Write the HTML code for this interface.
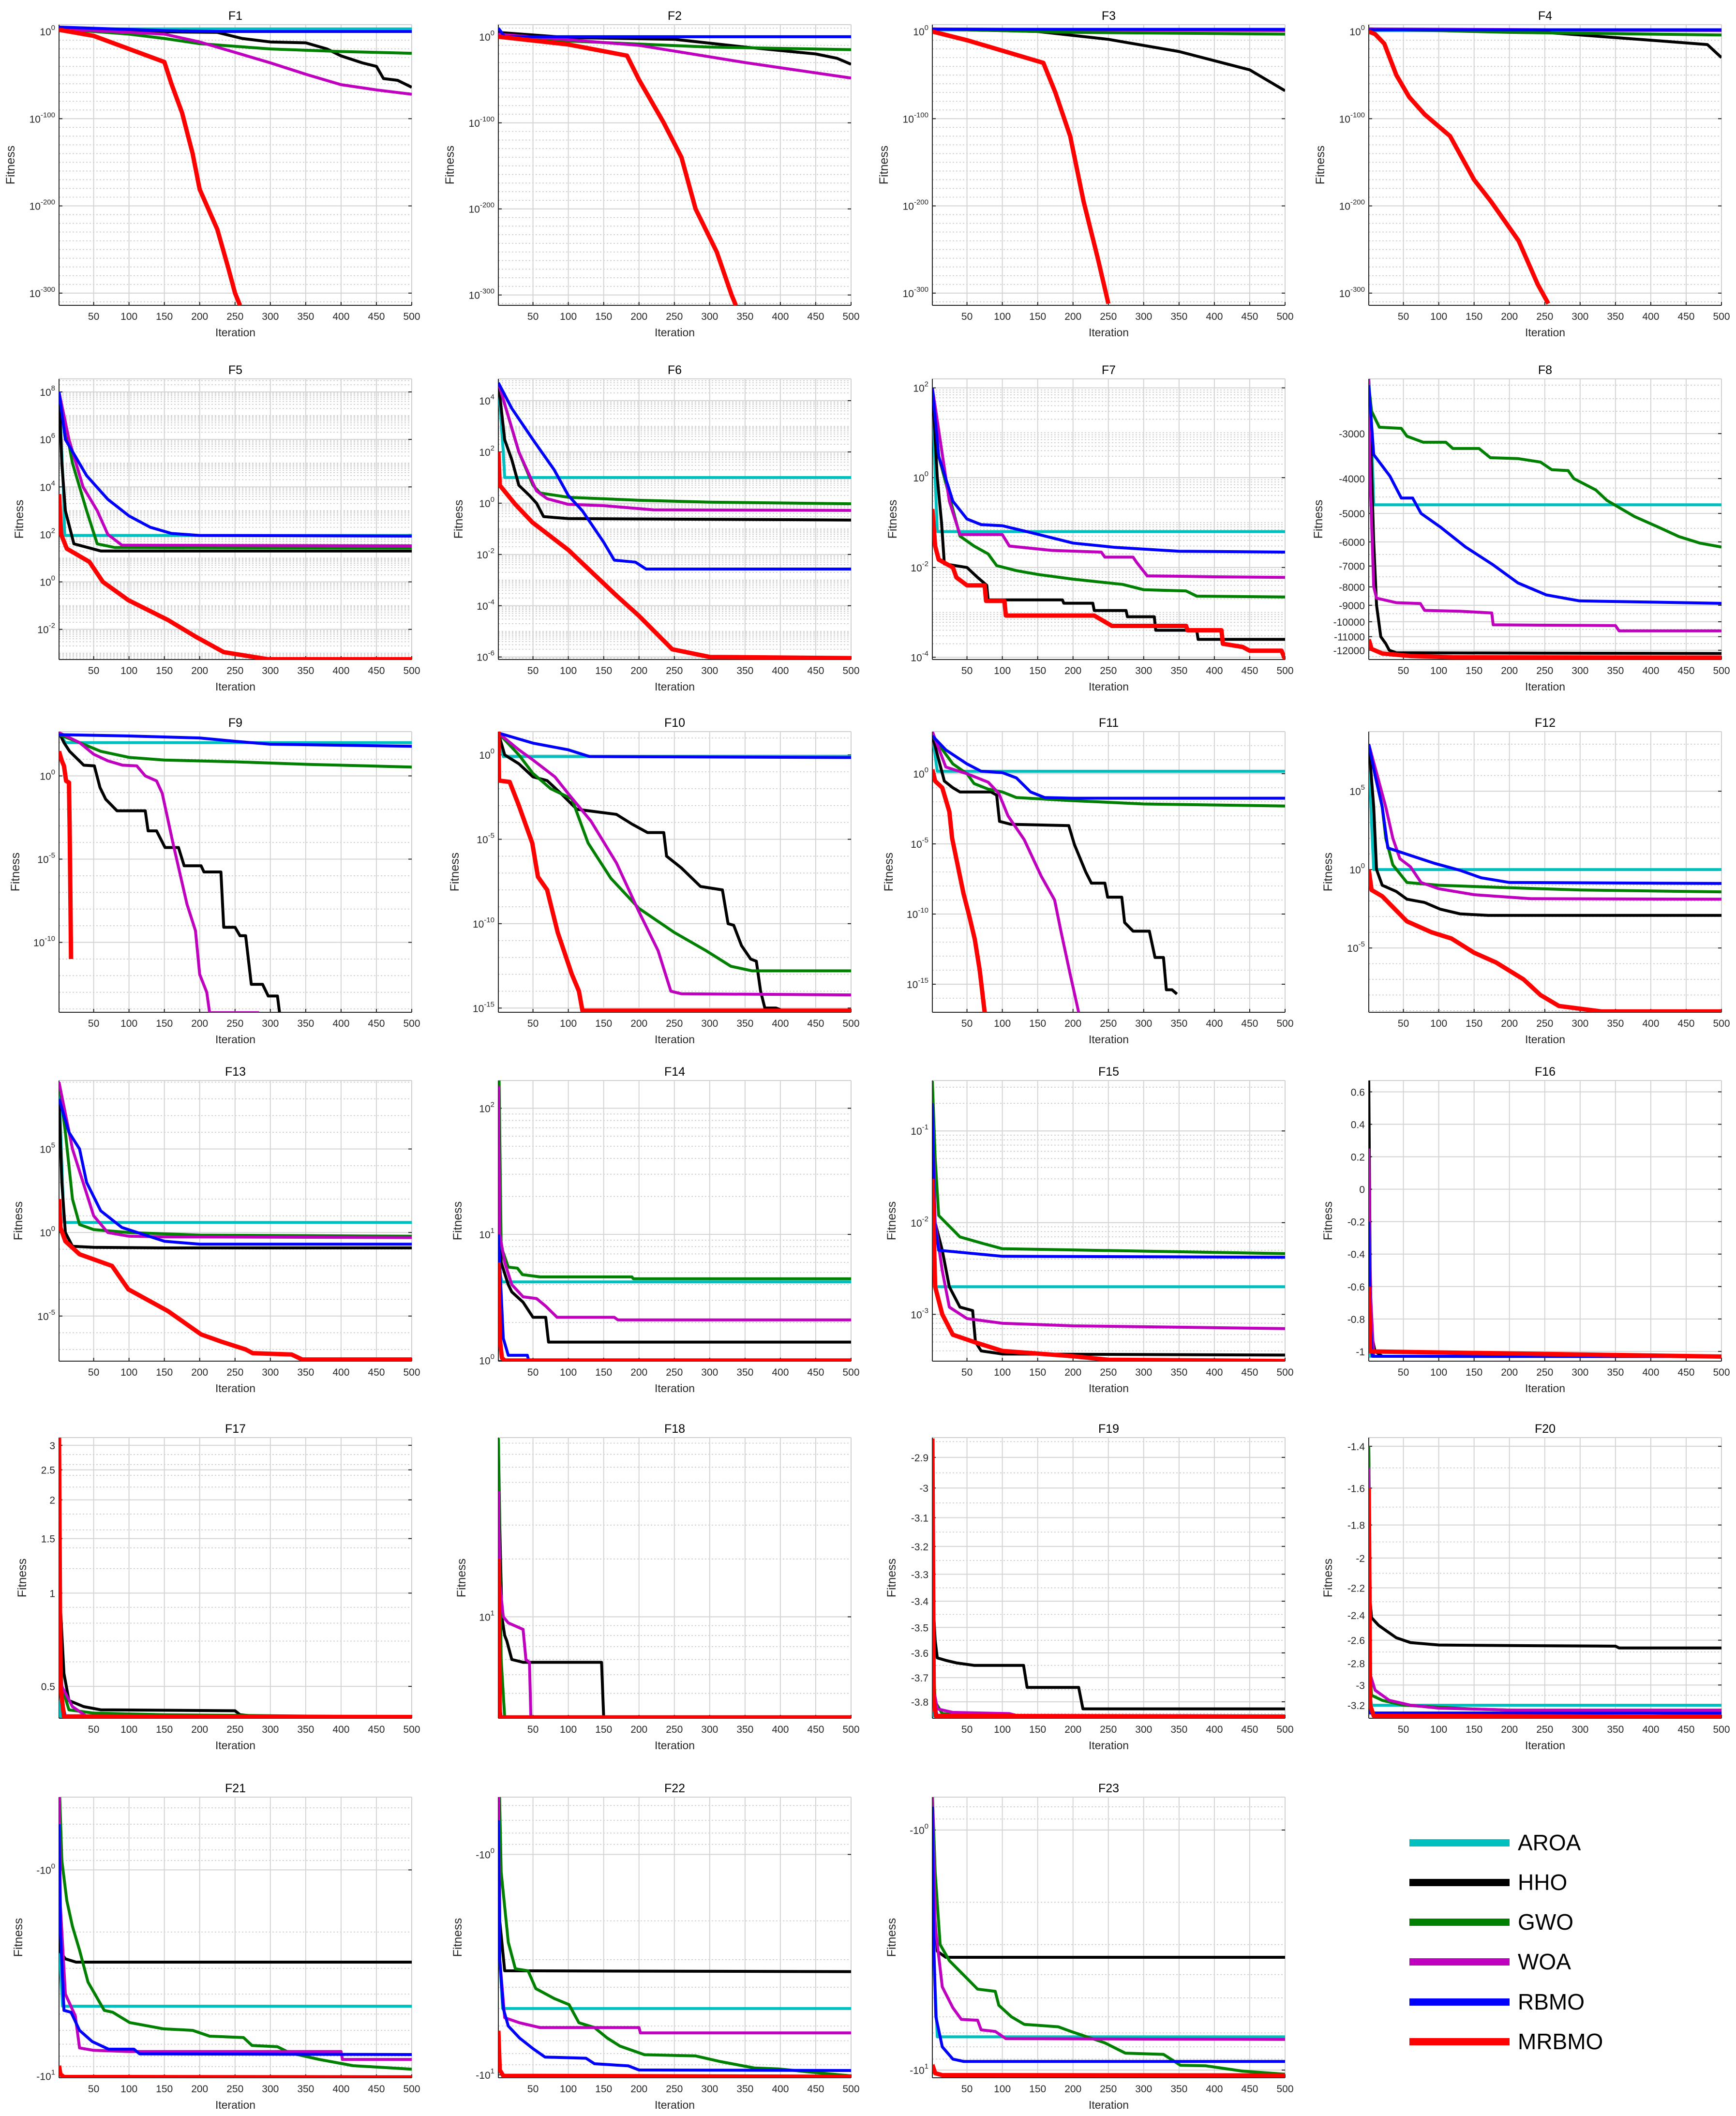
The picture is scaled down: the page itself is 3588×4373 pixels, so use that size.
<!DOCTYPE html>
<html><head><meta charset="utf-8"><title>Convergence curves F1-F23</title>
<style>
html,body{margin:0;padding:0;background:#fff;}
svg{display:block;font-family:"Liberation Sans",Arial,sans-serif;}
</style></head>
<body>
<svg id="fig" xmlns="http://www.w3.org/2000/svg" width="3588" height="4373" viewBox="0 0 3588 4373">
<rect x="0" y="0" width="3588" height="4373" fill="#fff"/>
<g id="legend">
 <g><rect x="2913" y="3801" width="207" height="15" fill="#00bfbf"/><text x="3137" y="3824" font-size="46">AROA</text></g>
 <g><rect x="2913" y="3883" width="207" height="15" fill="#000"/><text x="3137" y="3906" font-size="46">HHO</text></g>
 <g><rect x="2913" y="3965" width="207" height="15" fill="#008000"/><text x="3137" y="3988" font-size="46">GWO</text></g>
 <g><rect x="2913" y="4047" width="207" height="15" fill="#bf00bf"/><text x="3137" y="4070" font-size="46">WOA</text></g>
 <g><rect x="2913" y="4130" width="207" height="15" fill="#0000ff"/><text x="3137" y="4153" font-size="46">RBMO</text></g>
 <g><rect x="2913" y="4212" width="207" height="15" fill="#ff0000"/><text x="3137" y="4235" font-size="46">MRBMO</text></g>
</g>
</svg>
<script>
// ---- data: [iteration, fitness] ----
const F1_AROA=[[1,1e3],[500,1e3]];
const F1_HHO=[[1,1e3],[100,1e0],[225,1e-1],[260,1e-8],[300,1e-12],[350,1e-13],[380,1e-20],[400,1e-28],[430,1e-36],[450,1e-40],[460,1e-54],[480,1e-56],[490,1e-60],[500,1e-64]];
const F1_GWO=[[1,1e3],[100,1e-3],[150,1e-8],[200,1e-14],[300,1e-20],[400,1e-23],[500,1e-25]];
const F1_WOA=[[1,1e3],[150,1e-3],[200,1e-12],[250,1e-24],[300,1e-36],[350,1e-49],[400,1e-61],[450,1e-67],[500,1e-72]];
const F1_RBMO=[[1,1e5],[150,1e1],[230,1e0],[500,1e0]];
const F1_MRBMO=[[1,1e2],[50,1e-5],[100,1e-20],[150,1e-35],[160,1e-60],[175,1e-93],[190,1e-140],[200,1e-181],[225,1e-227],[240,1e-270],[250,1e-300],[257,1e-314]];

const F2_AROA=[[1,1e0],[500,1e0]];
const F2_HHO=[[1,1e5],[100,1e-1],[250,1e-3],[350,1e-12],[450,1e-20],[480,1e-25],[500,1e-32]];
const F2_GWO=[[1,1e3],[100,1e-5],[300,1e-12],[500,1e-15]];
const F2_WOA=[[1,1e3],[200,1e-10],[350,1e-30],[500,1e-48]];
const F2_RBMO=[[1,1e10],[10,1e0],[500,1e0]];
const F2_MRBMO=[[1,1e0],[100,1e-9],[183,1e-22],[200,1e-50],[235,1e-100],[260,1e-140],[280,1e-200],[310,1e-250],[331,1e-300],[337,1e-312]];

const F3_AROA=[[1,1e2],[500,1e2]];
const F3_HHO=[[1,1e3],[150,1e0],[250,1e-9],[350,1e-23],[450,1e-44],[500,1e-68]];
const F3_GWO=[[1,1e3],[200,1e-1],[500,1e-3]];
const F3_WOA=[[1,1e3],[500,1e1]];
const F3_RBMO=[[1,3e2],[500,3e2]];
const F3_MRBMO=[[1,1e0],[50,1e-10],[100,1e-22],[158,1e-36],[175,1e-70],[196,1e-120],[215,1e-195],[235,1e-260],[250,1e-312]];

const F4_AROA=[[1,1e1],[500,1e1]];
const F4_HHO=[[1,1e3],[250,1e-1],[400,1e-10],[480,1e-15],[500,1e-30]];
const F4_GWO=[[1,1e3],[200,1e-1],[500,1e-4]];
const F4_WOA=[[1,1e3],[500,1e1]];
const F4_RBMO=[[1,1e2],[500,1e2]];
const F4_MRBMO=[[1,1e0],[10,1e-3],[23,1e-14],[40,1e-50],[58,1e-75],[80,1e-95],[116,1e-120],[150,1e-170],[174,1e-195],[213,1e-240],[240,1e-290],[255,1e-312]];

const F5_AROA=[[1,1e8],[7,1e4],[9,90],[500,90]];
const F5_HHO=[[1,1e8],[5,1e5],[10,1e3],[22,40],[60,20],[500,20]];
const F5_GWO=[[1,1e8],[20,1e5],[40,1e3],[55,40],[80,28],[500,27]];
const F5_WOA=[[1,1e8],[15,1e6],[35,1e4],[55,1e3],[70,1e2],[90,35],[500,33]];
const F5_RBMO=[[1,1e8],[10,1e6],[40,3e4],[70,3e3],[100,6e2],[130,2e2],[160,110],[200,90],[500,85]];
const F5_MRBMO=[[1,5e3],[4,1e2],[12,25],[44,7],[63,1],[99,0.17],[155,0.025],[194,5e-3],[234,1.1e-3],[297,5.5e-4],[500,5.5e-4]];

const F6_AROA=[[1,5e4],[8,1e2],[10,10],[500,10]];
const F6_HHO=[[1,5e4],[10,3e2],[20,50],[30,5],[45,2],[55,1],[65,0.3],[100,0.25],[500,0.22]];
const F6_GWO=[[1,5e4],[30,1e2],[50,5],[60,2.5],[100,1.7],[200,1.3],[300,1.1],[500,0.95]];
const F6_WOA=[[1,5e4],[30,1e2],[55,3],[70,1.5],[100,0.9],[150,0.8],[220,0.55],[500,0.52]];
const F6_RBMO=[[1,5e4],[20,5e3],[50,3e2],[80,20],[100,2],[120,0.5],[150,0.03],[165,0.006],[195,0.005],[210,0.0027],[500,0.0027]];
const F6_MRBMO=[[1,1e2],[3,5],[25,0.9],[49,0.18],[100,0.015],[168,2.5e-4],[200,4e-5],[247,2e-6],[300,1e-6],[500,9e-7]];

const F7_AROA=[[1,1e2],[5,1],[8,0.063],[500,0.063]];
const F7_HHO=[[1,1e2],[8,1],[14,0.1],[18,0.012],[50,0.01],[65,0.006],[78,0.004],[80,0.0019],[185,0.0019],[187,0.0016],[228,0.0016],[230,0.0011],[275,0.0011],[277,8e-4],[315,8e-4],[317,4e-4],[375,4e-4],[377,2.5e-4],[500,2.5e-4]];
const F7_GWO=[[1,1e2],[10,3],[35,0.1],[40,0.05],[60,0.03],[80,0.02],[92,0.011],[120,0.0085],[150,0.007],[200,0.0055],[270,0.0042],[300,0.0032],[360,0.003],[375,0.0023],[500,0.0022]];
const F7_WOA=[[1,1e2],[25,0.3],[40,0.054],[100,0.054],[110,0.03],[170,0.024],[240,0.022],[245,0.017],[285,0.017],[290,0.013],[305,0.0065],[400,0.0062],[500,0.006]];
const F7_RBMO=[[1,1e2],[10,3],[30,0.3],[50,0.12],[70,0.09],[100,0.085],[150,0.055],[200,0.035],[260,0.028],[350,0.023],[500,0.022]];
const F7_MRBMO=[[1,0.2],[5,0.03],[10,0.015],[30,0.01],[35,0.006],[50,0.004],[75,0.004],[77,0.0018],[103,0.0018],[105,8.5e-4],[230,8.5e-4],[255,5e-4],[360,5e-4],[362,4e-4],[410,4e-4],[412,2e-4],[440,1.7e-4],[450,1.4e-4],[495,1.4e-4],[500,9e-5]];

const F8_AROA=[[1,-2115],[5,-3000],[8,-4730],[500,-4730]];
const F8_HHO=[[1,-2115],[8,-6000],[12,-9000],[18,-11000],[25,-11500],[30,-12000],[40,-12200],[500,-12250]];
const F8_GWO=[[1,-2200],[5,-2600],[16,-2880],[47,-2900],[55,-3050],[78,-3170],[110,-3170],[120,-3300],[157,-3300],[173,-3500],[212,-3520],[244,-3600],[260,-3780],[283,-3800],[291,-4000],[322,-4300],[338,-4600],[377,-5100],[409,-5440],[440,-5800],[470,-6050],[500,-6200]];
const F8_WOA=[[1,-2115],[3,-4000],[8,-8000],[12,-8600],[40,-8850],[74,-8900],[80,-9300],[130,-9350],[175,-9450],[177,-10200],[350,-10250],[355,-10600],[500,-10600]];
const F8_RBMO=[[1,-2200],[8,-3430],[31,-3940],[47,-4530],[63,-4530],[75,-5000],[102,-5450],[138,-6200],[177,-6950],[212,-7800],[252,-8420],[299,-8750],[500,-8890]];
const F8_MRBMO=[[1,-11200],[5,-11900],[20,-12250],[60,-12450],[120,-12550],[500,-12580]];

const F9_AROA=[[1,4e2],[10,1e2],[500,1e2]];
const F9_HHO=[[1,4e2],[8,1e2],[16,30],[36,4.4],[51,4],[59,0.2],[67,0.04],[83,0.008],[123,0.008],[127,5e-4],[139,5e-4],[151,5e-5],[170,5e-5],[178,4e-6],[202,4e-6],[206,1.7e-6],[230,1.7e-6],[234,8e-10],[250,8e-10],[257,2.5e-10],[265,2.5e-10],[273,3e-13],[289,3e-13],[297,6e-14],[310,6e-14],[313,6e-15]];
const F9_GWO=[[1,3e2],[30,1e2],[60,30],[100,13],[150,9],[250,7],[350,5],[500,3.4]];
const F9_WOA=[[1,4e2],[30,1e2],[50,20],[70,8],[91,4.4],[111,4],[123,1],[139,0.5],[147,0.09],[162,1e-4],[182,2e-8],[194,5e-10],[200,1.2e-12],[210,1e-13],[214,6e-15],[284,6e-15]];
const F9_RBMO=[[1,3e2],[100,2.5e2],[200,1.9e2],[250,1.2e2],[300,80],[500,60]];
const F9_MRBMO=[[1,30],[5,8],[8,4],[11,0.5],[15,0.4],[16,1e-3],[17,1e-7],[18,1e-11]];

const F10_AROA=[[1,20],[8,0.8],[500,0.8]];
const F10_HHO=[[1,20],[10,1],[30,0.3],[50,0.05],[70,0.03],[90,5e-3],[112,6e-4],[168,3e-4],[190,8e-5],[212,2.5e-5],[235,2.5e-5],[239,1e-6],[260,2e-7],[287,1.6e-8],[318,1e-8],[326,1e-10],[334,8e-11],[345,5e-12],[358,8e-13],[366,6e-13],[372,1e-14],[378,1e-15],[394,1e-15],[400,8e-16]];
const F10_GWO=[[1,20],[30,1],[50,0.08],[75,0.01],[105,2.5e-3],[128,6e-6],[160,5e-8],[200,8e-10],[250,3e-11],[295,2.5e-12],[330,3e-13],[360,1.6e-13],[500,1.6e-13]];
const F10_WOA=[[1,20],[30,2],[50,0.5],[81,0.05],[100,5e-3],[132,1.2e-4],[168,4e-7],[200,5e-10],[227,2.5e-12],[245,1e-14],[260,7e-15],[500,6e-15]];
const F10_RBMO=[[1,20],[50,5],[100,2],[130,0.8],[500,0.7]];
const F10_MRBMO=[[1,30],[2,0.03],[17,0.025],[30,1e-3],[49,6e-6],[57,6e-8],[70,1e-8],[85,3e-11],[105,1e-13],[115,1e-14],[120,7e-16],[500,7e-16]];

const F11_AROA=[[1,500],[8,1.5],[500,1.5]];
const F11_HHO=[[1,500],[10,10],[18,0.3],[30,0.1],[40,0.05],[84,0.05],[92,0.03],[96,4e-4],[112,2.5e-4],[194,2e-4],[202,9e-6],[218,1e-7],[226,1.6e-8],[245,1.6e-8],[249,1.6e-9],[269,1.6e-9],[273,2.5e-11],[285,6e-12],[308,6e-12],[316,8e-14],[328,8e-14],[332,4e-16],[340,4e-16],[347,2e-16]];
const F11_GWO=[[1,500],[30,5],[50,1],[60,0.2],[80,0.08],[100,0.05],[120,0.02],[200,0.012],[300,0.007],[500,0.005]];
const F11_WOA=[[1,1000],[20,3],[50,1],[80,0.25],[95,0.04],[108,1e-3],[131,2e-5],[155,5e-8],[174,1e-9],[182,1e-11],[196,5e-15],[208,1e-17]];
const F11_RBMO=[[1,500],[20,50],[50,5],[70,1.5],[100,1.2],[120,0.5],[140,0.05],[160,0.02],[200,0.018],[500,0.018]];
const F11_MRBMO=[[1,2],[5,0.3],[15,0.1],[25,2e-3],[29,2.5e-5],[45,3e-9],[53,8e-11],[61,1.6e-12],[68,1e-14],[75,1e-17]];

const F12_AROA=[[1,1e8],[5,1e3],[8,1],[500,1]];
const F12_HHO=[[1,1e8],[8,1e4],[12,1],[20,0.1],[40,0.04],[55,0.013],[80,0.008],[102,3e-3],[130,1.5e-3],[170,1.2e-3],[500,1.2e-3]];
const F12_GWO=[[1,1e8],[20,1e4],[25,100],[35,2],[55,0.15],[100,0.1],[200,0.07],[300,0.05],[500,0.038]];
const F12_WOA=[[1,1e8],[25,1e4],[30,1e3],[35,100],[45,5],[60,1.5],[75,0.15],[100,0.06],[150,0.025],[230,0.014],[500,0.013]];
const F12_RBMO=[[1,1e8],[10,1e6],[20,1e4],[28,24],[60,8],[94,2.5],[130,0.9],[160,0.3],[200,0.15],[500,0.13]];
const F12_MRBMO=[[1,1],[5,0.05],[20,0.02],[55,5e-4],[90,1e-4],[118,4e-5],[150,5e-6],[181,1.2e-6],[220,1e-7],[244,1e-8],[270,2e-9],[330,9e-10],[500,9e-10]];

const F13_AROA=[[1,1e9],[5,1e4],[8,4],[500,4]];
const F13_HHO=[[1,1e8],[5,1e3],[10,1],[20,0.15],[50,0.13],[150,0.12],[500,0.12]];
const F13_GWO=[[1,1e9],[10,1e6],[20,1e2],[30,3],[50,1.5],[100,1],[200,0.7],[500,0.6]];
const F13_WOA=[[1,1e9],[20,1e5],[35,1e3],[50,10],[70,1],[100,0.6],[150,0.55],[500,0.5]];
const F13_RBMO=[[1,1e8],[15,1e6],[30,1e5],[40,1e3],[60,20],[90,2],[150,0.3],[200,0.2],[500,0.2]];
const F13_MRBMO=[[1,100],[3,2],[10,0.3],[30,0.05],[76,0.01],[99,4e-4],[155,2e-5],[202,8e-7],[230,3e-7],[265,1e-7],[275,6e-8],[330,5e-8],[345,2.5e-8],[500,2.5e-8]];

const F14_AROA=[[1,100],[3,5],[6,4.2],[500,4.2]];
const F14_HHO=[[1,50],[5,6],[15,4],[20,3.5],[36,2.9],[50,2.2],[68,2.2],[72,1.4],[500,1.4]];
const F14_GWO=[[1,500],[5,8],[15,5.5],[28,5.4],[35,4.8],[60,4.6],[190,4.6],[192,4.45],[500,4.45]];
const F14_WOA=[[1,150],[3,10],[10,6],[20,4],[36,3.2],[55,3.1],[68,2.7],[84,2.2],[165,2.2],[170,2.1],[500,2.1]];
const F14_RBMO=[[1,10],[8,1.5],[15,1.1],[42,1.1],[44,1],[500,1]];
const F14_MRBMO=[[1,6],[3,1.5],[6,1.05],[10,1],[500,1]];

const F15_AROA=[[1,0.1],[5,2e-3],[500,2e-3]];
const F15_HHO=[[1,0.1],[5,0.01],[15,5e-3],[25,2e-3],[40,1.2e-3],[58,1.1e-3],[62,5e-4],[70,4e-4],[100,3.7e-4],[500,3.6e-4]];
const F15_GWO=[[1,0.35],[5,0.05],[10,0.012],[20,0.01],[40,7e-3],[70,6e-3],[100,5.2e-3],[500,4.6e-3]];
const F15_WOA=[[1,0.15],[5,0.01],[15,3e-3],[25,1.2e-3],[50,9e-4],[100,8e-4],[200,7.5e-4],[500,7e-4]];
const F15_RBMO=[[1,0.2],[4,0.01],[10,5e-3],[100,4.3e-3],[500,4.2e-3]];
const F15_MRBMO=[[1,0.03],[5,2e-3],[15,1e-3],[30,6e-4],[60,5e-4],[100,4e-4],[200,3.5e-4],[250,3.2e-4],[500,3.1e-4]];

const F16_AROA=[[1,-0.9],[3,-1.03],[500,-1.0316]];
const F16_HHO=[[1,0.67],[3,-0.5],[5,-0.9],[10,-1.0],[20,-1.03],[500,-1.0316]];
const F16_GWO=[[1,-0.3],[3,-0.9],[8,-1.03],[500,-1.0316]];
const F16_WOA=[[1,0.25],[3,-0.6],[8,-1.03],[500,-1.0316]];
const F16_RBMO=[[1,-0.2],[3,-0.8],[6,-1.03],[500,-1.0316]];
const F16_MRBMO=[[1,-0.6],[3,-1.0],[500,-1.0316]];

const F17_AROA=[[1,0.45],[3,0.4],[500,0.398]];
const F17_HHO=[[1,1.1],[8,0.55],[15,0.45],[36,0.43],[60,0.42],[250,0.417],[257,0.405],[280,0.4],[500,0.398]];
const F17_GWO=[[1,1.2],[5,0.5],[15,0.42],[50,0.41],[150,0.405],[500,0.398]];
const F17_WOA=[[1,0.8],[5,0.5],[20,0.43],[40,0.4],[500,0.398]];
const F17_RBMO=[[1,0.7],[5,0.45],[10,0.4],[500,0.398]];
const F17_MRBMO=[[1,3.2],[3,0.5],[8,0.4],[500,0.398]];

const F18_AROA=[[1,5],[3,3],[500,3]];
const F18_HHO=[[1,85],[3,30],[6,10],[10,8],[13,7.5],[20,6],[36,5.8],[147,5.8],[150,3],[500,3]];
const F18_GWO=[[1,85],[5,6],[10,3],[500,3]];
const F18_WOA=[[1,45],[3,15],[8,10],[15,9.3],[36,8.6],[40,6],[45,5.8],[47,3],[500,3]];
const F18_RBMO=[[1,15],[3,3.5],[5,3],[500,3]];
const F18_MRBMO=[[1,20],[3,3],[500,3]];

const F19_AROA=[[1,-3.6],[3,-3.86],[500,-3.8628]];
const F19_HHO=[[1,-3.3],[3,-3.45],[5,-3.55],[8,-3.62],[20,-3.63],[35,-3.64],[60,-3.65],[130,-3.65],[135,-3.74],[208,-3.74],[214,-3.83],[500,-3.83]];
const F19_GWO=[[1,-3.55],[5,-3.8],[15,-3.85],[50,-3.86],[500,-3.8628]];
const F19_WOA=[[1,-3.6],[3,-3.75],[8,-3.83],[30,-3.845],[110,-3.85],[120,-3.858],[500,-3.86]];
const F19_RBMO=[[1,-3.4],[3,-3.8],[8,-3.86],[500,-3.8628]];
const F19_MRBMO=[[1,-2.84],[3,-3.8],[6,-3.86],[500,-3.8628]];

const F20_AROA=[[1,-3.0],[5,-3.2],[500,-3.2]];
const F20_HHO=[[1,-1.4],[3,-2.3],[5,-2.42],[15,-2.48],[25,-2.52],[40,-2.58],[60,-2.62],[100,-2.64],[200,-2.645],[350,-2.65],[355,-2.665],[500,-2.665]];
const F20_GWO=[[1,-1.4],[3,-2.9],[5,-3.1],[20,-3.15],[50,-3.2],[150,-3.24],[300,-3.27],[500,-3.29]];
const F20_WOA=[[1,-1.5],[3,-2.9],[10,-3.05],[30,-3.15],[60,-3.2],[100,-3.23],[200,-3.25],[500,-3.25]];
const F20_RBMO=[[1,-2.9],[3,-3.28],[500,-3.28]];
const F20_MRBMO=[[1,-1.6],[3,-3.2],[8,-3.31],[500,-3.322]];

const F21_AROA=[[1,-0.8],[3,-3],[6,-4.58],[500,-4.58]];
const F21_HHO=[[1,-0.44],[3,-2.5],[10,-2.7],[25,-2.8],[500,-2.8]];
const F21_GWO=[[1,-0.35],[5,-0.9],[12,-1.41],[20,-1.88],[30,-2.45],[42,-3.5],[65,-4.8],[77,-4.9],[101,-5.5],[149,-5.9],[190,-6.0],[214,-6.4],[262,-6.5],[274,-7.1],[310,-7.2],[327,-7.7],[369,-8.3],[417,-8.9],[500,-9.25]];
const F21_WOA=[[1,-0.4],[3,-1.5],[10,-4],[24,-5.1],[30,-7.3],[50,-7.5],[100,-7.6],[400,-7.6],[402,-8.3],[500,-8.3]];
const F21_RBMO=[[1,-0.6],[3,-2],[8,-4.8],[18,-4.9],[30,-6.0],[48,-6.8],[71,-7.4],[107,-7.4],[115,-7.8],[500,-7.86]];
const F21_MRBMO=[[1,-8.9],[3,-9.8],[8,-10.1],[500,-10.15]];

const F22_AROA=[[1,-1],[3,-3],[7,-5.0],[500,-5.0]];
const F22_HHO=[[1,-0.26],[3,-2],[10,-3.37],[500,-3.4]];
const F22_GWO=[[1,-0.3],[5,-1.2],[15,-2.5],[25,-3.3],[43,-3.37],[54,-4.06],[80,-4.5],[101,-4.8],[115,-5.8],[137,-6.1],[155,-6.8],[173,-7.4],[208,-8.1],[280,-8.2],[315,-8.7],[363,-9.3],[398,-9.4],[470,-9.9],[500,-10.1]];
const F22_WOA=[[1,-0.45],[3,-3],[10,-5.5],[31,-5.8],[60,-6.1],[200,-6.1],[202,-6.45],[500,-6.45]];
const F22_RBMO=[[1,-0.7],[3,-3],[8,-5],[15,-6],[31,-6.8],[50,-7.6],[67,-8.3],[125,-8.4],[137,-8.9],[185,-9.1],[200,-9.5],[500,-9.55]];
const F22_MRBMO=[[1,-6.3],[3,-9.5],[8,-10.1],[500,-10.2]];

const F23_AROA=[[1,-1.5],[4,-4],[8,-7.27],[500,-7.27]];
const F23_HHO=[[1,-0.8],[3,-2],[8,-3.2],[20,-3.39],[500,-3.39]];
const F23_GWO=[[1,-0.7],[5,-1.5],[12,-3.0],[25,-3.5],[42,-3.93],[65,-4.6],[90,-4.7],[95,-5.37],[113,-6.0],[131,-6.45],[179,-6.6],[197,-6.9],[245,-7.7],[274,-8.5],[328,-8.6],[352,-9.55],[388,-9.6],[440,-10.1],[500,-10.4]];
const F23_WOA=[[1,-0.73],[5,-2.5],[15,-4.5],[30,-5.5],[42,-6.15],[65,-6.2],[70,-6.8],[90,-6.9],[105,-7.4],[500,-7.45]];
const F23_RBMO=[[1,-0.8],[3,-3],[6,-6],[15,-8],[30,-9.0],[45,-9.2],[500,-9.2]];
const F23_MRBMO=[[1,-9.5],[5,-10.3],[15,-10.5],[500,-10.53]];

const algorithms=['AROA','HHO','GWO','WOA','RBMO','MRBMO'];
const xTicks=[50,100,150,200,250,300,350,400,450,500];

// ---- layout / axis configuration ----
const colors=['#00bfbf','#000000','#008000','#bf00bf','#0000ff','#ff0000'];
const widths=[6,6,6,6,6,9];
const LEFTS=[122,1030,1927,2829], TOPS=[51,783,1512,2233,2971,3714], W=729, H=580;
function rng(a,b,s){const r=[];for(let v=a;v<=b+1e-9;v+=s)r.push(+v.toFixed(6));return r;}
function logMinors(lo,hi){const r=[];for(let k=Math.floor(lo);k<=Math.ceil(hi);k++){for(let m=2;m<=9;m++)r.push(k+Math.log10(m));}return r;}
const panels=[
 {n:'F1',s:[F1_AROA,F1_HHO,F1_GWO,F1_WOA,F1_RBMO,F1_MRBMO],t:'log',lo:-314,hi:7.8,ticks:[0,-100,-200,-300],minor:rng(-310,0,10),lab:'sup',fx:-92},
 {n:'F2',s:[F2_AROA,F2_HHO,F2_GWO,F2_WOA,F2_RBMO,F2_MRBMO],t:'log',lo:-312,hi:14,ticks:[0,-100,-200,-300],minor:rng(-310,10,10),lab:'sup',fx:-92},
 {n:'F3',s:[F3_AROA,F3_HHO,F3_GWO,F3_WOA,F3_RBMO,F3_MRBMO],t:'log',lo:-314,hi:7.8,ticks:[0,-100,-200,-300],minor:rng(-310,0,10),lab:'sup',fx:-92},
 {n:'F4',s:[F4_AROA,F4_HHO,F4_GWO,F4_WOA,F4_RBMO,F4_MRBMO],t:'log',lo:-314,hi:7.8,ticks:[0,-100,-200,-300],minor:rng(-310,0,10),lab:'sup',fx:-92},
 {n:'F5',s:[F5_AROA,F5_HHO,F5_GWO,F5_WOA,F5_RBMO,F5_MRBMO],t:'log',lo:-3.27,hi:8.55,ticks:[-2,0,2,4,6,8],minor:logMinors(-4,9).concat(rng(-3,8,1)),lab:'sup',fx:-74},
 {n:'F6',s:[F6_AROA,F6_HHO,F6_GWO,F6_WOA,F6_RBMO,F6_MRBMO],t:'log',lo:-6.1,hi:4.85,ticks:[-6,-4,-2,0,2,4],minor:logMinors(-7,5).concat(rng(-5,3,2)),lab:'sup',fx:-74},
 {n:'F7',s:[F7_AROA,F7_HHO,F7_GWO,F7_WOA,F7_RBMO,F7_MRBMO],t:'log',lo:-4.05,hi:2.2,ticks:[-4,-2,0,2],minor:logMinors(-5,3).concat([-3,-1,1]),lab:'sup',fx:-74},
 {n:'F8',s:[F8_AROA,F8_HHO,F8_GWO,F8_WOA,F8_RBMO,F8_MRBMO],t:'neg',lo:3.325,hi:4.105,ticks:[-3000,-4000,-5000,-6000,-7000,-8000,-9000,-10000,-11000,-12000],minor:[-2200,-2400,-2600,-2800,-3200,-3400,-3600,-3800,-4250,-4500,-4750,-5500,-6500,-7500,-8500,-9500,-10500,-11500,-12500],lab:'num',fx:-96},
 {n:'F9',s:[F9_AROA,F9_HHO,F9_GWO,F9_WOA,F9_RBMO,F9_MRBMO],t:'log',lo:-14.2,hi:2.66,ticks:[0,-5,-10],minor:rng(-14,2,1),lab:'sup',fx:-82},
 {n:'F10',s:[F10_AROA,F10_HHO,F10_GWO,F10_WOA,F10_RBMO,F10_MRBMO],t:'log',lo:-15.25,hi:1.38,ticks:[0,-5,-10,-15],minor:rng(-15,1,1),lab:'sup',fx:-82},
 {n:'F11',s:[F11_AROA,F11_HHO,F11_GWO,F11_WOA,F11_RBMO,F11_MRBMO],t:'log',lo:-17,hi:3,ticks:[0,-5,-10,-15],minor:rng(-16,2,1),lab:'sup',fx:-82},
 {n:'F12',s:[F12_AROA,F12_HHO,F12_GWO,F12_WOA,F12_RBMO,F12_MRBMO],t:'log',lo:-9.1,hi:8.8,ticks:[-5,0,5],minor:rng(-9,8,1),lab:'sup',fx:-76},
 {n:'F13',s:[F13_AROA,F13_HHO,F13_GWO,F13_WOA,F13_RBMO,F13_MRBMO],t:'log',lo:-7.7,hi:9.1,ticks:[-5,0,5],minor:rng(-7,9,1),lab:'sup',fx:-76},
 {n:'F14',s:[F14_AROA,F14_HHO,F14_GWO,F14_WOA,F14_RBMO,F14_MRBMO],t:'log',lo:-0.005,hi:2.22,ticks:[0,1,2],minor:logMinors(0,2),lab:'sup',fx:-76},
 {n:'F15',s:[F15_AROA,F15_HHO,F15_GWO,F15_WOA,F15_RBMO,F15_MRBMO],t:'log',lo:-3.51,hi:-0.45,ticks:[-3,-2,-1],minor:logMinors(-4,-1),lab:'sup',fx:-76},
 {n:'F16',s:[F16_AROA,F16_HHO,F16_GWO,F16_WOA,F16_RBMO,F16_MRBMO],t:'lin',lo:-1.06,hi:0.67,ticks:[-1,-0.8,-0.6,-0.4,-0.2,0,0.2,0.4,0.6],minor:[],lab:'num',fx:-76},
 {n:'F17',s:[F17_AROA,F17_HHO,F17_GWO,F17_WOA,F17_RBMO,F17_MRBMO],t:'logv',lo:-0.404,hi:0.502,ticks:[0.5,1,1.5,2,2.5,3],minor:[0.4,0.6,0.7,0.8,0.9,1.2,1.4,1.6,1.8,2.2,2.4,2.6,2.8],lab:'num',fx:-68},
 {n:'F18',s:[F18_AROA,F18_HHO,F18_GWO,F18_WOA,F18_RBMO,F18_MRBMO],t:'logv',lo:0.4726,hi:1.932,ticks:[10],minor:[3,4,5,6,7,8,9,20,30,40,50,60,70,80],lab:'sup10',fx:-68},
 {n:'F19',s:[F19_AROA,F19_HHO,F19_GWO,F19_WOA,F19_RBMO,F19_MRBMO],t:'neg',lo:0.4529,hi:0.5877,ticks:[-2.9,-3,-3.1,-3.2,-3.3,-3.4,-3.5,-3.6,-3.7,-3.8],minor:[-2.85,-2.95,-3.05,-3.15,-3.25,-3.35,-3.45,-3.55,-3.65,-3.75,-3.85],lab:'num',fx:-76},
 {n:'F20',s:[F20_AROA,F20_HHO,F20_GWO,F20_WOA,F20_RBMO,F20_MRBMO],t:'neg',lo:0.1341,hi:0.5232,ticks:[-1.4,-1.6,-1.8,-2,-2.2,-2.4,-2.6,-2.8,-3,-3.2],minor:[-1.5,-1.7,-1.9,-2.1,-2.3,-2.5,-2.7,-2.9,-3.1,-3.3],lab:'num',fx:-76},
 {n:'F21',s:[F21_AROA,F21_HHO,F21_GWO,F21_WOA,F21_RBMO,F21_MRBMO],t:'neg',lo:-0.353,hi:1.008,ticks:[-1,-10],minor:[-0.5,-0.6,-0.7,-0.8,-0.9,-2,-3,-4,-5,-6,-7,-8,-9],lab:'negsup',fx:-76},
 {n:'F22',s:[F22_AROA,F22_HHO,F22_GWO,F22_WOA,F22_RBMO,F22_MRBMO],t:'neg',lo:-0.26,hi:1.013,ticks:[-1,-10],minor:[-0.6,-0.7,-0.8,-0.9,-2,-3,-4,-5,-6,-7,-8,-9],lab:'negsup',fx:-76},
 {n:'F23',s:[F23_AROA,F23_HHO,F23_GWO,F23_WOA,F23_RBMO,F23_MRBMO],t:'neg',lo:-0.137,hi:1.032,ticks:[-1,-10],minor:[-0.8,-0.9,-2,-3,-4,-5,-6,-7,-8,-9],lab:'negsup',fx:-76}
];

const NS='http://www.w3.org/2000/svg';
const svg=document.getElementById('fig');
function el(tag,attrs,parent){const e=document.createElementNS(NS,tag);for(const k in attrs)e.setAttribute(k,attrs[k]);if(parent)parent.appendChild(e);return e;}

panels.forEach((p,i)=>{
  const L=LEFTS[i%4], T=TOPS[Math.floor(i/4)], B=T+H, R=L+W;
  const xs=it=>L+(it-1)/499*W;
  let ys;
  if(p.t==='log'||p.t==='logv') ys=v=>T+(p.hi-Math.log10(v))/(p.hi-p.lo)*H;
  else if(p.t==='neg') ys=v=>T+(Math.log10(-v)-p.lo)/(p.hi-p.lo)*H;
  else ys=v=>T+(p.hi-v)/(p.hi-p.lo)*H;
  const ty=tv=>(p.t==='log')?T+(p.hi-tv)/(p.hi-p.lo)*H:ys(tv);

  const g=el('g',{},svg);
  
  
  const cid='clip'+i;
  const cp=el('clipPath',{id:cid},g);
  el('rect',{x:L,y:T,width:W,height:H},cp);

  const mg=el('g',{stroke:'#c8c8c8','stroke-width':1.6,'stroke-dasharray':'3,4'},g);
  
  
  p.minor.forEach(m=>{const y=ty(m);if(y>T+1&&y<B-1)el('line',{x1:L,x2:R,y1:y,y2:y},mg);});
  const gg=el('g',{stroke:'#d4d4d4','stroke-width':2},g);
  
  
  xTicks.forEach(t=>{const x=xs(t);el('line',{x1:x,x2:x,y1:T,y2:B},gg);});
  p.ticks.forEach(t=>{const y=ty(t);el('line',{x1:L,x2:R,y1:y,y2:y},gg);});
  el('line',{x1:L,x2:R,y1:T,y2:T,stroke:'#d0d0d0','stroke-width':2},g);
  el('line',{x1:R,x2:R,y1:T,y2:B,stroke:'#d0d0d0','stroke-width':2},g);
  const ax=el('g',{stroke:'#262626','stroke-width':2},g);
  
  
  el('line',{x1:L,x2:L,y1:T,y2:B},ax);
  el('line',{x1:L,x2:R,y1:B,y2:B},ax);
  p.ticks.forEach(t=>{const y=ty(t);el('line',{x1:L,x2:L+7,y1:y,y2:y},ax);el('line',{x1:R-7,x2:R,y1:y,y2:y},ax);});
  xTicks.forEach(t=>{const x=xs(t);el('line',{x1:x,x2:x,y1:B,y2:B-7},ax);});

  const sg=el('g',{'clip-path':'url(#'+cid+')',fill:'none','stroke-linejoin':'round'},g);
  
  
  p.s.forEach((arr,k)=>{
    const d=arr.map((pt,j)=>(j?'L':'M')+xs(pt[0]).toFixed(1)+' '+ys(pt[1]).toFixed(1)).join(' ');
    const path=el('path',{d:d,stroke:colors[k],'stroke-width':widths[k]},sg);
    
    
  });

  xTicks.forEach(t=>{
    const tx=el('text',{x:xs(t),y:B+30,'font-size':21,'text-anchor':'middle',fill:'#262626'},g);
    tx.textContent=t;
    
    
  });
  p.ticks.forEach(t=>{
    const y=ty(t);
    const tx=el('text',{x:L-8,y:y+8,'font-size':21,'text-anchor':'end',fill:'#262626'},g);
    
    
    if(p.lab==='sup'||p.lab==='sup10'||p.lab==='negsup'){
      let base='10', ex=String(t);
      if(p.lab==='sup10'){ex=String(Math.round(Math.log10(t)));}
      if(p.lab==='negsup'){base='-10';ex=String(Math.round(Math.log10(-t)));}
      const a=el('tspan',{},tx);a.textContent=base;
      const b=el('tspan',{dy:-11,'font-size':15},tx);b.textContent=ex;
    } else tx.textContent=String(t);
  });
  const ti=el('text',{x:L+W/2,y:T-10,'font-size':25,'text-anchor':'middle',fill:'#000'},g);
  ti.textContent=p.n;
  
  
  const xl=el('text',{x:L+W/2,y:B+64,'font-size':23,'text-anchor':'middle',fill:'#262626'},g);
  xl.textContent='Iteration';
  
  
  const yx=L+p.fx, yy=T+H/2;
  const yl=el('text',{x:yx,y:yy,'font-size':25,'text-anchor':'middle',fill:'#262626',transform:'rotate(-90 '+yx+' '+yy+')'},g);
  yl.textContent='Fitness';
  
  
});
</script>
</body></html>
